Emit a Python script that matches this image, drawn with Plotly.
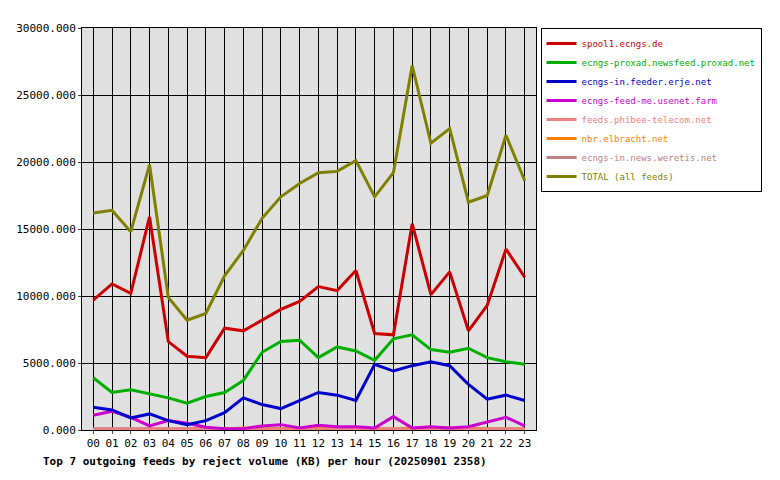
import plotly.graph_objects as go

hours = ["%02d" % h for h in range(24)]

total = [16200, 16400, 14800, 19800, 9900, 8200, 8700, 11500, 13400, 15800, 17400, 18400,
         19200, 19300, 20100, 17400, 19200, 27200, 21400, 22500, 17000, 17500, 22000, 18600]
spool1 = [9700, 10900, 10200, 15900, 6600, 5500, 5400, 7600, 7400, 8200, 9000, 9600,
          10700, 10400, 11900, 7200, 7100, 15400, 10100, 11800, 7400, 9300, 13500, 11400]
proxad = [3900, 2800, 3000, 2700, 2400, 2000, 2500, 2800, 3700, 5800, 6600, 6700,
          5400, 6200, 5900, 5200, 6800, 7100, 6000, 5800, 6100, 5400, 5100, 4900]
erje = [1700, 1500, 900, 1200, 700, 400, 700, 1300, 2400, 1900, 1600, 2200,
        2800, 2600, 2200, 4900, 4400, 4800, 5100, 4800, 3400, 2300, 2600, 2200]
feedme = [1100, 1400, 950, 300, 700, 500, 200, 100, 100, 300, 400, 150,
          350, 250, 250, 150, 1000, 150, 250, 150, 250, 600, 950, 300]
phibee = [80, 80, 70, 60, 60, 60, 50, 40, 50, 60, 60, 60, 70, 60, 60, 50, 60, 60, 60, 60, 60, 60, 70, 60]
elbracht = [40, 40, 30, 30, 30, 30, 100, 80, 150, 100, 80, 60, 150, 100, 60, 80, 60, 150, 100, 150, 100, 60, 60, 60]
weretis = [100] * 24

series = [
    ("spool1.ecngs.de", spool1, "#cc0000"),
    ("ecngs-proxad.newsfeed.proxad.net", proxad, "#00b000"),
    ("ecngs-in.feeder.erje.net", erje, "#0000cc"),
    ("ecngs-feed-me.usenet.farm", feedme, "#cc00cc"),
    ("feeds.phibee-telecom.net", phibee, "#f08080"),
    ("nbr.elbracht.net", elbracht, "#ff8000"),
    ("ecngs-in.news.weretis.net", weretis, "#c08080"),
    ("TOTAL (all feeds)", total, "#808000"),
]

fig = go.Figure()
# small feeds drawn first so the big ones sit on top
order = [6, 5, 4, 3, 2, 1, 0, 7]
for i in order:
    name, vals, col = series[i]
    fig.add_trace(go.Scatter(x=hours, y=vals, mode="lines",
                             name='<span style="color:%s">%s</span>' % (col, name),
                             line=dict(color=col, width=3), legendrank=i + 1))

fig.update_layout(
    width=780, height=480,
    margin=dict(l=74, r=252, t=20, b=58, autoexpand=False),
    paper_bgcolor="white", plot_bgcolor="#e0e0e0",
    font=dict(family="DejaVu Sans Mono", size=11, color="black"),
    showlegend=True,
    legend=dict(x=1.01, y=1.0, xanchor="left", yanchor="top",
                bordercolor="black", borderwidth=1, bgcolor="white",
                font=dict(size=9), tracegroupgap=0, itemwidth=30),
    annotations=[dict(text="<b>Top 7 outgoing feeds by reject volume (KB) per hour (20250901 2358)</b>",
                      x=0, xref="paper", xanchor="left", y=-0.058, yref="paper",
                      yanchor="top", showarrow=False, font=dict(size=11), xshift=-41)],
)
fig.update_xaxes(showgrid=True, gridcolor="black", gridwidth=1, range=[-0.6, 23.6],
                 showline=True, linecolor="black", mirror=True, ticks="outside",
                 ticklen=3, tickfont=dict(size=11))
fig.update_yaxes(showgrid=True, gridcolor="black", gridwidth=1, range=[0, 30000],
                 dtick=5000, tickformat=".3f", showline=True, linecolor="black",
                 mirror=True, ticks="outside", ticklen=3, zeroline=False)

fig.write_html("out.html")
